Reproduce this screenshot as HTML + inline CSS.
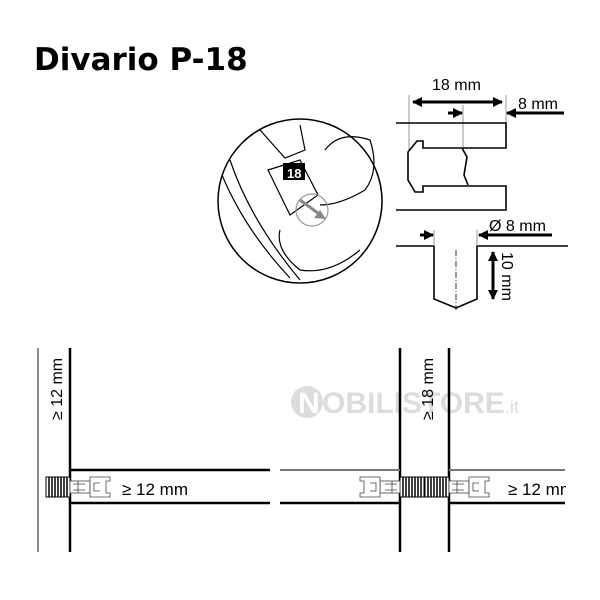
<!DOCTYPE html>
<html><head><style>body{margin:0;background:#fff}svg{display:block}</style></head><body>
<svg width="600" height="600" viewBox="0 0 600 600" xmlns="http://www.w3.org/2000/svg" font-family="Liberation Sans, sans-serif">
<defs>
<marker id="ah" markerWidth="10" markerHeight="10" refX="9" refY="5" orient="auto" markerUnits="userSpaceOnUse"><path d="M0,0 L10,5 L0,10 z" fill="#000"/></marker>
<g id="thr"><rect x="0" y="0" width="24" height="20" fill="#fff" stroke="#000" stroke-width="1"/><path d="M3,0v20M6,0v20M9,0v20M12,0v20M15,0v20M18,0v20M21,0v20" stroke="#000" stroke-width="1.5"/></g>
<g id="con" fill="#fff" stroke="#444" stroke-width="0.8"><rect x="0" y="4" width="20" height="12"/><path d="M3,7h12M3,13h12M8,4v12"/><path d="M20,0h20v4h-4v12h4v4h-20z"/><path d="M30,6h-6v8h6"/></g>
</defs>
<text x="34" y="70" font-size="31" font-weight="bold" font-family="DejaVu Sans, sans-serif">Divario P-18</text>
<circle cx="300" cy="201" r="82" fill="#fff" stroke="#000" stroke-width="1.5"/>
<g fill="none" stroke="#000" stroke-width="1.2">
<path d="M222,175 Q245,230 290,278"/><path d="M230,160 Q250,220 300,280"/>
<path d="M260,130 L285,158 L305,150 L300,125"/>
<path d="M325,150 Q340,130 370,140 Q380,170 365,190 Q340,205 320,205"/>
<path d="M280,230 Q275,250 300,270 Q330,275 360,250"/>
<path d="M268,170 L300,160 L318,195 L290,215 Z"/>
<circle cx="312" cy="210" r="16" stroke="#999"/>
</g>
<rect x="283" y="163" width="22" height="17" fill="#000"/>
<text x="287" y="178" font-size="13" font-weight="bold" fill="#fff">18</text>
<path d="M300,200 L322,216" stroke="#888" stroke-width="3"/>
<path d="M326,219 L314,218 L320,210 z" fill="#888"/>
<g stroke="#999" stroke-width="1"><path d="M409,95V150M506,95V123M463,105V150"/></g>
<path d="M413,102H502" stroke="#000" stroke-width="3" marker-end="url(#ah)"/>
<path d="M502,102H413" stroke="#000" stroke-width="3" marker-end="url(#ah)"/>
<path d="M448,113H462" stroke="#000" stroke-width="3" marker-end="url(#ah)"/>
<path d="M564,113H507" stroke="#000" stroke-width="3" marker-end="url(#ah)"/>
<text x="432" y="90" font-size="16">18 mm</text>
<text x="518" y="109" font-size="16">8 mm</text>
<g fill="none" stroke="#000" stroke-width="1.6">
<path d="M396,123H506V148H423V141H417L408,152V180L415,192H423V186H506V210H396"/>
<path d="M462,148L467,157L464,175L468,185"/>
<path d="M396,246H434V299L456,308L477,299V246H568"/>
</g>
<path d="M456,250V310" stroke="#000" stroke-width="0.8" stroke-dasharray="6,2,1,2"/>
<path d="M420,235H433" stroke="#000" stroke-width="3" marker-end="url(#ah)"/>
<path d="M552,235H479" stroke="#000" stroke-width="3" marker-end="url(#ah)"/>
<path d="M434,230V246M477,230V246" stroke="#999"/>
<text x="489" y="231" font-size="16">Ø 8 mm</text>
<path d="M493,252V299" stroke="#000" stroke-width="3" marker-end="url(#ah)"/>
<path d="M493,299V252" stroke="#000" stroke-width="3" marker-end="url(#ah)"/>
<text transform="translate(502,252) rotate(90)" font-size="16">10 mm</text>
<circle cx="307" cy="402" r="16" fill="#ddd"/>
<text x="298" y="413" font-size="30" font-weight="bold" fill="#fff">N</text>
<text x="322" y="413" font-size="30" font-weight="bold" fill="#ddd">OBILISTORE<tspan font-size="18" font-weight="normal">.it</tspan></text>
<g stroke-width="2.5" stroke="#000" fill="none">
<path d="M38,348V552" stroke="#666" stroke-width="1.5"/>
<path d="M70,348V552"/>
<path d="M70,470H270M70,503H270"/>
<path d="M400,348V552M449,348V552"/>
<path d="M449,503H565"/>
<path d="M280,503H400"/>
</g>
<path d="M280,470H400M449,470H565" stroke="#777" stroke-width="2"/>
<text transform="translate(62,420) rotate(-90)" font-size="16">≥ 12 mm</text>
<text transform="translate(433,420) rotate(-90)" font-size="16">≥ 18 mm</text>
<text x="122" y="495" font-size="17">≥ 12 mm</text>
<text x="508" y="495" font-size="17">≥ 12 mm</text>
<rect x="566" y="460" width="34" height="50" fill="#fff"/>
<use href="#thr" x="46" y="477"/>
<use href="#con" x="70" y="477"/>
<use href="#thr" x="400" y="477"/>
<use href="#thr" x="425" y="477"/>
<use href="#con" transform="translate(400,477) scale(-1,1)"/>
<use href="#con" x="449" y="477"/>
</svg>
</body></html>
